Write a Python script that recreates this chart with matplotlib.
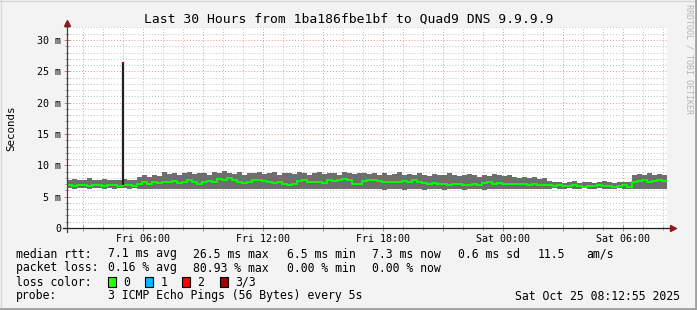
import numpy as np
import pandas as pd
import matplotlib
matplotlib.use("Agg")
import matplotlib.pyplot as plt
import matplotlib.dates as mdates
from matplotlib.ticker import MultipleLocator, FuncFormatter
from matplotlib.patches import Rectangle
from matplotlib.lines import Line2D

plt.rcParams['font.family'] = ['DejaVu Sans Mono']

W, H = 697, 310

# time range (30 hours up to the graph timestamp), 15 min steps
t_start = pd.Timestamp("2025-10-24 02:12:55")
t_end = pd.Timestamp("2025-10-25 08:12:55")

# smoke band upper edge (ms)
smoke_top = [7.7, 7.8, 7.6, 7.7, 7.9, 7.7, 7.6, 7.8, 7.7, 7.6, 7.7, 7.8, 7.6, 7.7,
             8.2, 8.4, 8.1, 8.5, 8.3,
             8.9, 8.6, 8.8, 8.5, 8.7, 9.0, 8.6, 8.8, 8.7, 8.5, 8.9,
             8.8, 9.1, 8.7, 8.6, 8.9, 8.5, 8.8, 8.7, 9.0, 8.6, 8.8, 8.9, 8.5, 8.7, 8.8,
             8.6, 9.0, 8.7, 8.5, 8.8, 8.9, 8.6, 8.7, 8.8, 8.5, 8.9, 8.7, 8.6, 8.8, 8.7,
             8.6, 8.8, 8.5, 8.7, 8.4, 8.6, 8.9, 8.5, 8.6, 8.4, 8.7, 8.5, 8.3, 8.6, 8.4,
             8.5, 8.7, 8.4, 8.3, 8.5, 8.6, 8.4, 8.2, 8.5, 8.3, 8.6, 8.4, 8.3, 8.5, 8.2,
             8.0, 8.2, 7.9, 8.1, 7.8, 7.9,
             7.5, 7.3, 7.4, 7.2, 7.3, 7.5, 7.2, 7.3, 7.4, 7.2, 7.3, 7.5, 7.3, 7.2, 7.4, 7.3, 7.4,
             8.5, 8.6, 8.4, 8.7, 8.5, 8.6, 8.4]

# smoke band lower edge (ms)
smoke_low = [6.35, 6.3, 6.4, 6.35, 6.3, 6.35, 6.4, 6.3, 6.35, 6.3, 6.35, 6.4, 6.3, 6.35,
             6.3, 6.25, 6.3, 6.2, 6.25,
             6.3, 6.25, 6.2, 6.3, 6.25, 6.3, 6.2, 6.25, 6.3, 6.25, 6.2,
             6.25, 6.3, 6.2, 6.25, 6.3, 6.2, 6.25, 6.3, 6.25, 6.2, 6.3, 6.25, 6.2, 6.25, 6.3,
             6.2, 6.25, 6.3, 6.25, 6.2, 6.25, 6.3, 6.2, 6.25, 6.3, 6.25, 6.2, 6.3, 6.25, 6.2,
             6.2, 6.15, 6.2, 6.1, 6.2, 6.15, 6.2, 6.1, 6.15, 6.2, 6.15, 6.1, 6.2, 6.15, 6.2,
             6.1, 6.15, 6.2, 6.15, 6.1, 6.2, 6.15, 6.2, 6.1, 6.15, 6.2, 6.15, 6.2, 6.15, 6.2,
             6.3, 6.25, 6.3, 6.25, 6.3, 6.3,
             6.3, 6.35, 6.3, 6.3, 6.35, 6.3, 6.3, 6.35, 6.3, 6.3, 6.35, 6.3, 6.3, 6.3, 6.35, 6.3, 6.3,
             6.3, 6.25, 6.3, 6.3, 6.25, 6.3, 6.3]

# median rtt (ms)
median_rtt = [6.8, 6.7, 6.9, 6.8, 6.7, 6.8, 6.9, 6.7, 6.8, 6.8, 6.7, 6.9, 6.8, 6.7,
              7.0, 7.3, 7.1, 7.4, 7.2,
              7.4, 7.3, 7.5, 7.2, 7.4, 7.6, 7.3, 7.1, 7.4, 7.5, 7.3,
              7.8, 7.7, 7.9, 7.6, 7.3, 7.2, 7.4, 7.6, 7.7, 7.5, 7.3, 7.2, 7.4, 7.0, 6.9,
              7.1, 7.5, 7.6, 7.4, 7.3, 7.4, 7.2, 7.6, 7.5, 7.7, 7.8, 7.7, 7.0, 7.1, 7.5,
              7.6, 7.7, 7.5, 7.4, 7.3, 7.4, 7.3, 7.5, 7.4, 7.6, 7.3, 7.2, 7.1, 7.2, 7.0,
              7.0, 6.9, 7.1, 7.0, 6.9, 6.9, 7.0, 6.8, 7.2, 7.3, 7.1, 7.2, 7.1, 7.0, 7.1,
              7.0, 7.1, 6.9, 7.0, 6.9, 6.8,
              6.8, 6.7, 6.8, 6.7, 6.7, 6.8, 6.7, 6.6, 6.7, 6.7, 6.8, 6.7, 6.7, 6.6, 6.7, 6.8, 6.6,
              7.4, 7.5, 7.6, 7.4, 7.5, 7.6, 7.5]

# the single outlier
spike_time = pd.Timestamp("2025-10-24 05:01:00")
spike_base = 6.9
spike_top = 26.5

title = "Last 30 Hours from 1ba186fbe1bf to Quad9 DNS 9.9.9.9"

legend_rows = [
    ("median rtt:", ["7.1 ms avg", "26.5 ms max", "6.5 ms min", "7.3 ms now", "0.6 ms sd", "11.5", "am/s"]),
    ("packet loss:", ["0.16 % avg", "80.93 % max", "0.00 % min", "0.00 % now"]),
]
legend_x = [107.6, 193, 286.7, 372, 457.8, 537.8, 586.7]
loss_labels = ["0", "1", "2", "3/3"]
loss_colors = ["#26ff00", "#00b8ff", "#ff0000", "#a00000"]
probe_text = "3 ICMP Echo Pings (56 Bytes) every 5s"
stamp_text = "Sat Oct 25 08:12:55 2025"


def fx(x):
    return x / W


def fy(y):
    return 1 - y / H


fig = plt.figure(figsize=(W / 100, H / 100), dpi=100, facecolor="#f3f3f3")
ax = fig.add_axes([fx(67), fy(228), 600 / W, 201 / H], facecolor="white")

edges = pd.date_range(t_start, periods=len(median_rtt) + 1, freq="15min")
edges_num = mdates.date2num(edges.to_pydatetime())

ax.stairs(smoke_top, edges_num, baseline=smoke_low, fill=True,
          color="#6e6e6e", zorder=3)
ax.stairs(median_rtt, edges_num, baseline=None, color="#00ff00", lw=1.4, zorder=4)

sx = mdates.date2num(spike_time.to_pydatetime())
ax.vlines(sx, spike_base, spike_top, color="#202020", lw=1.6, zorder=5)
ax.vlines(sx, spike_top - 0.3, spike_top, color="#c00000", lw=1.6, zorder=6)

ax.set_xlim(mdates.date2num(t_start.to_pydatetime()), mdates.date2num(t_end.to_pydatetime()))
ax.set_ylim(0, 32.07)

# grids
ax.xaxis.set_major_locator(mdates.HourLocator(byhour=range(0, 24, 3)))
ax.xaxis.set_minor_locator(mdates.HourLocator())


def xfmt(v, pos):
    d = mdates.num2date(v)
    if d.hour % 6 == 0:
        return d.strftime("%a %H:%M")
    return ""


ax.xaxis.set_major_formatter(FuncFormatter(xfmt))
ax.yaxis.set_major_locator(MultipleLocator(5))
ax.yaxis.set_minor_locator(MultipleLocator(1))
ax.yaxis.set_major_formatter(FuncFormatter(lambda v, p: "0" if v == 0 else "%g m" % v))

ax.grid(which="minor", color="#c0c0c0", lw=0.7, ls=(0, (1, 2)), zorder=1)
ax.grid(which="major", color="#f09090", lw=0.7, ls=(0, (1, 2)), zorder=2)
ax.set_axisbelow(True)

ax.tick_params(which="major", direction="inout", length=4, width=0.7,
               color="#d08080", labelsize=7.2, pad=2)
ax.tick_params(which="minor", direction="inout", length=3, width=0.7, color="#a0a0a0")
ax.tick_params(axis="x", which="major", pad=2)

for s in ax.spines.values():
    s.set_visible(False)

# axes with arrows
ax.add_line(Line2D([0, 0], [-0.02, 1.015], transform=ax.transAxes, color="#404040",
                   lw=0.9, clip_on=False, zorder=7))
ax.add_line(Line2D([-0.007, 1.008], [0, 0], transform=ax.transAxes, color="#202020",
                   lw=0.9, clip_on=False, zorder=7))
ax.plot([0], [1.02], marker="^", ms=4.5, color="#8b1a1a", transform=ax.transAxes,
        clip_on=False, zorder=8)
ax.plot([1.01], [0], marker=">", ms=4.5, color="#8b1a1a", transform=ax.transAxes,
        clip_on=False, zorder=8)

fig.text(fx(11), fy(128), "Seconds", rotation=90, ha="center", va="center", fontsize=7.8)

fig.text(0.5, fy(19), title, ha="center", va="center", fontsize=9.4)
fig.text(fx(689), fy(4), "RRDTOOL / TOBI OETIKER", rotation=270, ha="center",
         va="top", fontsize=6, color="#b4b4b4")

row_y = [254, 268, 282, 296]
lfs = 8.3
for (label, items), y in zip(legend_rows, row_y[:2]):
    fig.text(fx(16), fy(y), label, va="center", fontsize=lfs)
    for t, x in zip(items, legend_x):
        fig.text(fx(x), fy(y), t, va="center", fontsize=lfs)

fig.text(fx(16), fy(row_y[2]), "loss color:", va="center", fontsize=lfs)
box_x = [108, 145, 182, 219.5]
for lab, col, bx in zip(loss_labels, loss_colors, box_x):
    fig.patches.append(Rectangle((fx(bx), fy(row_y[2] + 5)), 8 / W, 10 / H,
                                 transform=fig.transFigure, facecolor=col,
                                 edgecolor="black", lw=0.8))
    fig.text(fx(bx + 15.5), fy(row_y[2]), lab, va="center", fontsize=lfs)

fig.text(fx(16), fy(row_y[3]), "probe:", va="center", fontsize=lfs)
fig.text(fx(107.6), fy(row_y[3]), probe_text, va="center", fontsize=lfs)
fig.text(fx(680), fy(row_y[3]), stamp_text, va="center", ha="right", fontsize=lfs)

# canvas frame
fig.add_artist(Line2D([0, 1], [fy(0.5), fy(0.5)], color="#d8d8d8", lw=1))
fig.add_artist(Line2D([fx(0.5), fx(0.5)], [0, 1], color="#d8d8d8", lw=1))
fig.add_artist(Line2D([0, 1], [fy(308.5), fy(308.5)], color="#a0a0a0", lw=2))
fig.add_artist(Line2D([fx(695.5), fx(695.5)], [0, 1], color="#a0a0a0", lw=2))

fig.savefig("out.png", dpi=100, facecolor=fig.get_facecolor())
